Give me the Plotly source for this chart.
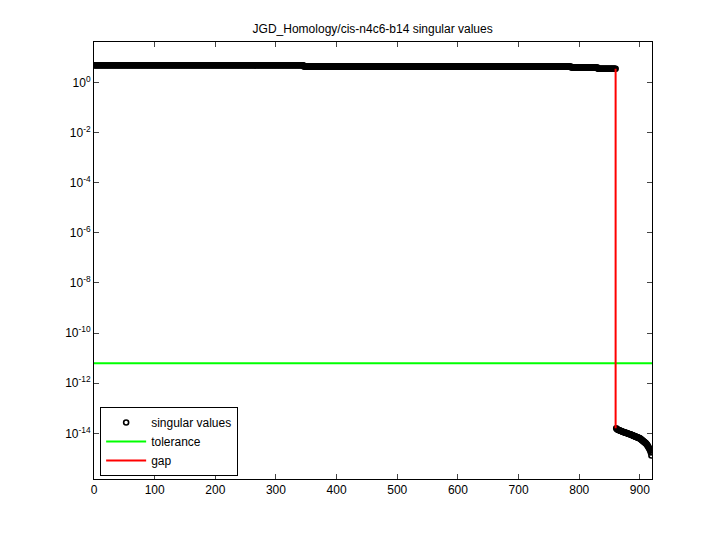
import plotly.graph_objects as go

# ---- data ----
title_text = "JGD_Homology/cis-n4c6-b14 singular values"

# plateau of large singular values: (level, count) segments
plateau_levels = [4.8, 4.3, 3.9, 3.5]
plateau_counts = [345, 441, 44, 30]

# small singular values after the gap (log10), indices 861..919
tail_log10 = [
    -13.80, -13.83, -13.85, -13.86, -13.87, -13.88, -13.89, -13.90, -13.91, -13.92,
    -13.93, -13.94, -13.95, -13.96, -13.97, -13.97, -13.98, -13.99, -14.00, -14.01,
    -14.02, -14.03, -14.03, -14.04, -14.05, -14.06, -14.07, -14.08, -14.09, -14.10,
    -14.11, -14.12, -14.13, -14.14, -14.15, -14.16, -14.17, -14.18, -14.19, -14.20,
    -14.22, -14.24, -14.26, -14.28, -14.30, -14.32, -14.34, -14.36, -14.38, -14.40,
    -14.43, -14.46, -14.50, -14.54, -14.58, -14.63, -14.68, -14.76, -14.88,
]

tolerance = 6.2e-12

x_ticks = [0, 100, 200, 300, 400, 500, 600, 700, 800, 900]
y_tick_exps = [0, -2, -4, -6, -8, -10, -12, -14]

# ---- build series ----
sv = []
for lvl, cnt in zip(plateau_levels, plateau_counts):
    sv += [lvl] * cnt
sv += [10 ** e for e in tail_log10]
n = len(sv)
idx = list(range(1, n + 1))
rank = sum(plateau_counts)

fig = go.Figure()
fig.add_trace(go.Scatter(
    x=idx, y=sv, mode="markers", name="singular values",
    marker=dict(symbol="circle-open", size=5, color="black", line=dict(width=1.6, color="black")),
))
fig.add_trace(go.Scatter(
    x=[0, n + 1], y=[tolerance, tolerance], mode="lines", name="tolerance",
    line=dict(color="#00ff00", width=2),
))
fig.add_trace(go.Scatter(
    x=[rank, rank], y=[sv[rank - 1], sv[rank]], mode="lines", name="gap",
    line=dict(color="#ff0000", width=2),
))

font_family = "Liberation Sans, Arial, Helvetica, sans-serif"
fig.update_layout(
    width=704, height=524,
    margin=dict(l=86, r=60, t=34, b=53),
    paper_bgcolor="white", plot_bgcolor="white",
    font=dict(family=font_family, size=12, color="black"),
    title=dict(text=title_text, x=0.518, xanchor="center", y=1 - 21 / 524, yanchor="middle",
               font=dict(size=12, family=font_family)),
    showlegend=True,
    legend=dict(
        x=0.011, y=0.007, xanchor="left", yanchor="bottom",
        bordercolor="black", borderwidth=1, bgcolor="white",
        font=dict(size=12, family=font_family),
        itemwidth=40, tracegroupgap=0,
    ),
    xaxis=dict(
        range=[0, n + 1], tickvals=x_ticks, ticks="inside", ticklen=5,
        showline=True, linecolor="black", linewidth=1, mirror="ticks",
        showgrid=False, zeroline=False, tickfont=dict(size=12),
    ),
    yaxis=dict(
        type="log", range=[-15.82, 1.61],
        tickvals=[10 ** e for e in y_tick_exps],
        ticktext=["10<sup>%d</sup>" % e for e in y_tick_exps],
        ticks="inside", ticklen=5,
        showline=True, linecolor="black", linewidth=1, mirror="ticks",
        showgrid=False, zeroline=False, tickfont=dict(size=12),
    ),
)

fig.write_html("out.html")
